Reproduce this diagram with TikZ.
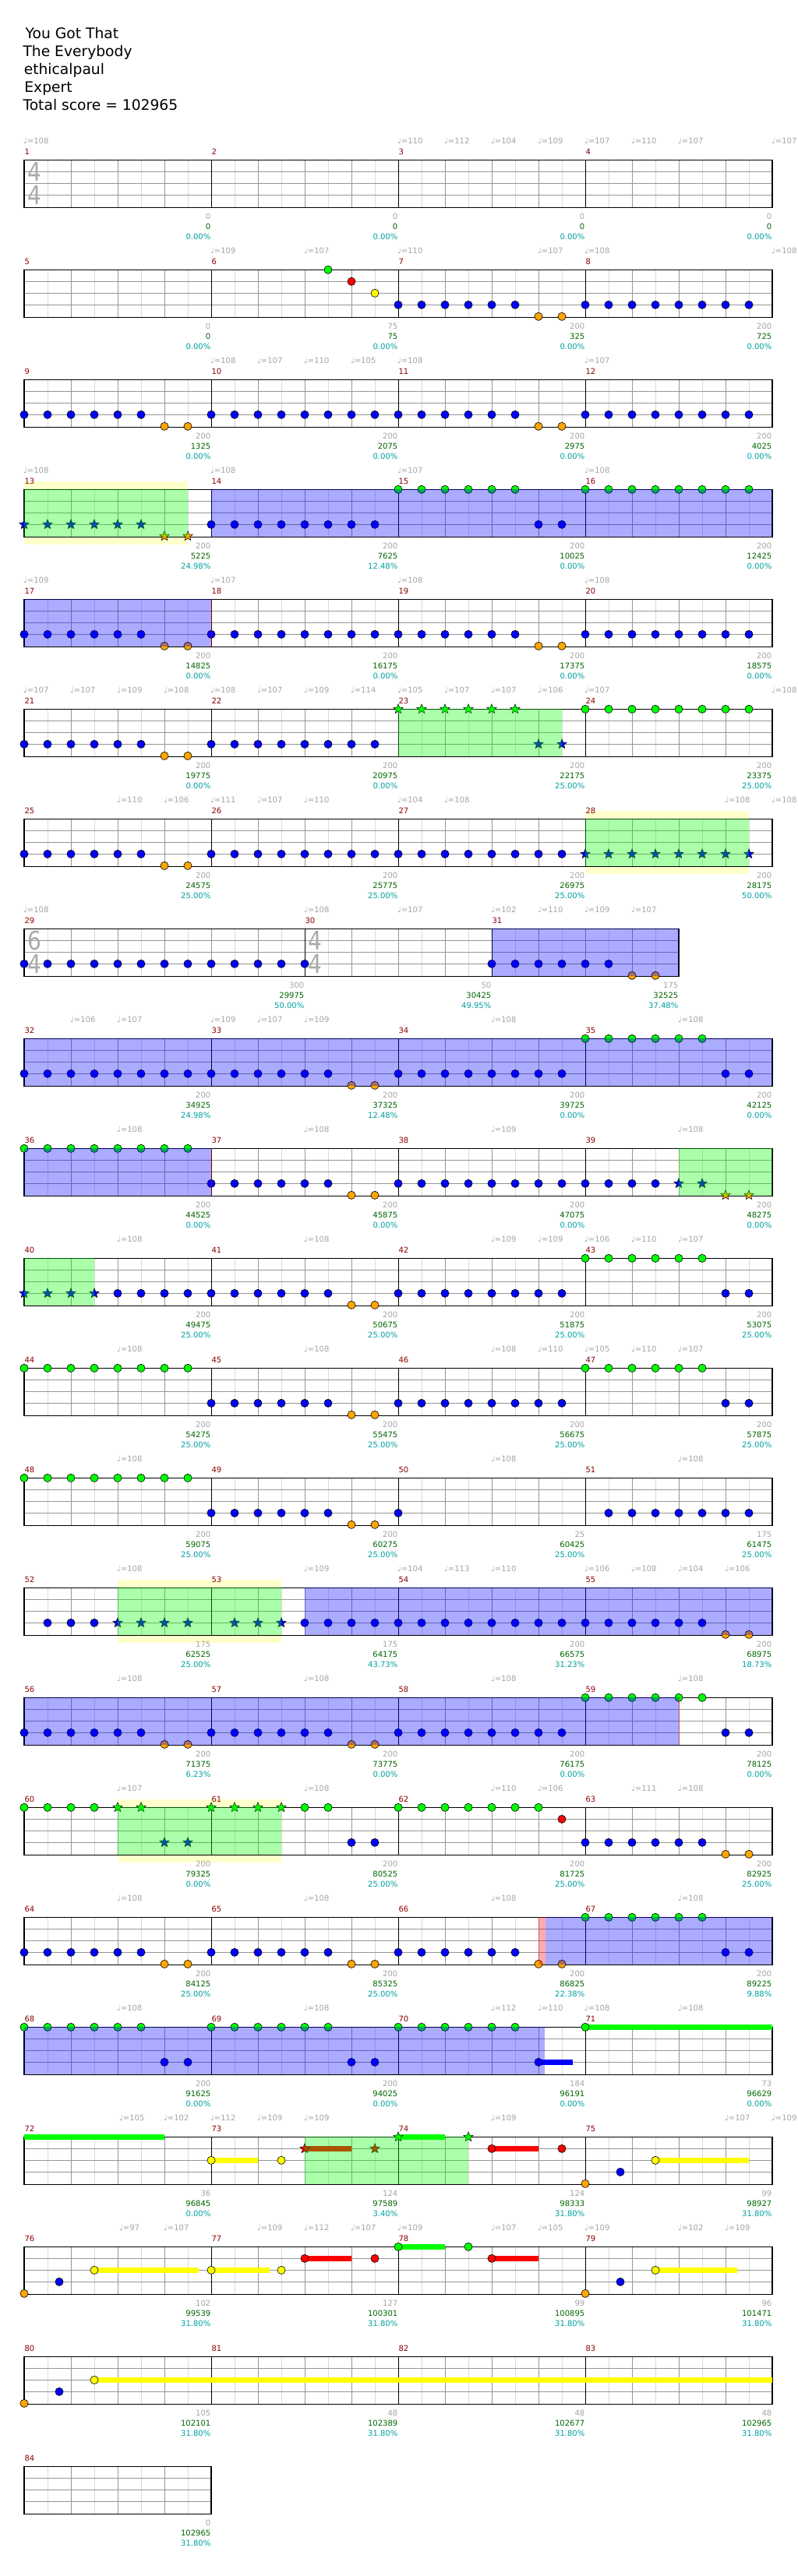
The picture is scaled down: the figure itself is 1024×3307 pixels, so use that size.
\documentclass[tikz,border=0pt]{standalone}
\usepackage{fontspec}
\usepackage{graphicx}
\setmainfont{DejaVu Sans}
\usetikzlibrary{shapes.geometric}

\definecolor{cg}{RGB}{0,255,0}
\definecolor{cr}{RGB}{255,0,0}
\definecolor{cy}{RGB}{255,255,0}
\definecolor{cb}{RGB}{0,0,255}
\definecolor{co}{RGB}{255,165,0}
\definecolor{tgray}{RGB}{165,165,165}
\definecolor{mred}{RGB}{140,0,0}
\definecolor{sgreen}{RGB}{0,100,0}
\definecolor{pteal}{RGB}{0,160,160}
\definecolor{beatgray}{RGB}{150,150,150}
\definecolor{halfgray}{RGB}{218,218,218}
\definecolor{ylbg}{RGB}{255,255,204}
\definecolor{tsgray}{RGB}{170,170,170}

\def\lyg{0}\def\lyr{15}\def\lyy{30}\def\lyb{45}\def\lyo{60}

\tikzset{
  note/.style={circle, draw=black, line width=0.6pt, minimum size=10.2pt, inner sep=0pt, fill=c#1},
  snote/.style={star, star points=5, star point ratio=2.3, draw=black, line width=0.5pt, minimum size=13pt, inner sep=0pt, fill=c#1},
  hdr/.style={anchor=base west, inner sep=0pt, font=\fontsize{18.7}{22}\selectfont},
  cnt/.style={anchor=base east, inner sep=0pt, text=tgray, font=\fontsize{10}{12}\selectfont},
  scr/.style={anchor=base east, inner sep=0pt, text=sgreen, font=\fontsize{10}{12}\selectfont},
  pct/.style={anchor=base east, inner sep=0pt, text=pteal, font=\fontsize{10}{12}\selectfont},
  mnum/.style={anchor=base west, inner sep=0pt, text=mred, font=\fontsize{10}{12}\selectfont},
  tmp/.style={anchor=base west, inner sep=0pt, text=tgray, font=\fontsize{10}{12}\selectfont},
  tsig/.style={anchor=center, inner sep=0pt, text=tsgray, font=\fontsize{33}{33}\selectfont},
  halfline/.style={halfgray, line width=0.9pt},
  beatline/.style={beatgray, line width=0.9pt},
  barline/.style={black, line width=0.9pt},
  staffborder/.style={black, line width=1.2pt},
  overlay/.style={fill=#1, fill opacity=0.33},
  endmark/.style={draw=red, line width=1.4pt, draw opacity=0.45},
}

\newcommand\Grid[2]{%
  \fill[white] (31,0) rectangle (#1,61);
  \foreach \x in {61,121,...,#1} \draw[halfline] (\x,0) -- (\x,61);
  \foreach \x in {91,151,...,#1} \draw[beatline] (\x,0) -- (\x,61);
  \foreach \y in {15,30,45} \draw[beatline] (31,\y) -- (#1,\y);
  \foreach \x in {#2} \draw[barline] (\x,0) -- (\x,61);
  \draw[staffborder] (31,0) rectangle (#1,61);
}
\newcommand\NoteRow[3]{\foreach \p in {#3}{\node[note=#1] at ({#2+30*\p},{\csname ly#1\endcsname}) {};}}
\newcommand\StarRow[3]{\foreach \p in {#3}{\node[snote=#1] at ({#2+30*\p},{\csname ly#1\endcsname}) {};}}
\newcommand\Sustain[3]{\fill[c#1] (#2,{\csname ly#1\endcsname-3.4}) rectangle (#3,{\csname ly#1\endcsname+3.4});}
\newcommand\MBO[1]{\NoteRow{b}{#1}{0,...,5}\NoteRow{o}{#1}{6,7}}
\newcommand\MBB[1]{\NoteRow{b}{#1}{0,...,7}}
\newcommand\MGB[1]{\NoteRow{g}{#1}{0,...,5}\NoteRow{b}{#1}{6,7}}
\newcommand\MGG[1]{\NoteRow{g}{#1}{0,...,7}}
\newcommand\Ov[3]{\fill[overlay=#1] (#2,0) rectangle (#3,61);}
\newcommand\Yb[2]{\fill[ylbg] (#1,-10) rectangle (#2,71);}
\newcommand\Endmark[1]{\draw[endmark] ({#1+0.7},0) -- ({#1+0.7},61);}
\newcommand\Lab[4]{\node[cnt] at ({#1-0.5},76.3) {#2};\node[scr] at ({#1-0.5},89.6) {#3};\node[pct] at ({#1-0.5},102.3) {#4};}
\newcommand\Mn[2]{\node[mnum] at ({#1+0.3},-7.3) {#2};}
\newcommand\Tp[2]{\node[tmp] at ({#1-1},-21) {♩=#2};}
\newcommand\Ts[3]{\node[tsig] at ({#1+13},14.8) {\scalebox{0.85}[1]{#2}};\node[tsig] at ({#1+13},44.8) {\scalebox{0.85}[1]{#3}};}
\newcommand\MnFour[1]{\Mn{31}{#1}\pgfmathtruncatemacro\mnb{#1+1}\Mn{271}{\mnb}\pgfmathtruncatemacro\mnc{#1+2}\Mn{511}{\mnc}\pgfmathtruncatemacro\mnd{#1+3}\Mn{751}{\mnd}}

\begin{document}
\begin{tikzpicture}[x=1pt,y=-1pt]
\useasboundingbox[fill=white] (0,0) rectangle (1024,3307);
\node[hdr] (h1) at (32.5,49) {You Got That};
\node[hdr] (h2) at (29.3,72.3) {The Everybody};
\node[hdr] (h3) at (30.6,95.7) {ethicalpaul};
\node[hdr] (h4) at (31.2,118.3) {Expert};
\node[hdr] (h5) at (29.3,141.7) {Total score = 102965};

% Row 1
\begin{scope}[shift={(0,205.33)}]
\Grid{991}{271,511,751}
\Ts{31}{4}{4}
\MnFour{1}
\Tp{31}{108}\Tp{511}{110}\Tp{571}{112}\Tp{631}{104}\Tp{691}{109}\Tp{751}{107}\Tp{811}{110}\Tp{871}{107}\Tp{991}{107}
\Lab{271}{0}{0}{0.00\%}\Lab{511}{0}{0}{0.00\%}\Lab{751}{0}{0}{0.00\%}\Lab{991}{0}{0}{0.00\%}
\end{scope}

% Row 2
\begin{scope}[shift={(0,346.33)}]
\Grid{991}{271,511,751}
\MnFour{5}
\Tp{271}{109}\Tp{391}{107}\Tp{511}{110}\Tp{691}{107}\Tp{751}{108}\Tp{991}{108}
\NoteRow{g}{421}{0}\NoteRow{r}{451}{0}\NoteRow{y}{481}{0}\MBO{511}\MBB{751}
\Lab{271}{0}{0}{0.00\%}\Lab{511}{75}{75}{0.00\%}\Lab{751}{200}{325}{0.00\%}\Lab{991}{200}{725}{0.00\%}
\end{scope}

% Row 3
\begin{scope}[shift={(0,487.33)}]
\Grid{991}{271,511,751}
\MnFour{9}
\Tp{271}{108}\Tp{331}{107}\Tp{391}{110}\Tp{451}{105}\Tp{511}{108}\Tp{751}{107}
\MBO{31}\MBB{271}\MBO{511}\MBB{751}
\Lab{271}{200}{1325}{0.00\%}\Lab{511}{200}{2075}{0.00\%}\Lab{751}{200}{2975}{0.00\%}\Lab{991}{200}{4025}{0.00\%}
\end{scope}

% Row 4
\begin{scope}[shift={(0,628.33)}]
\Yb{31}{241}
\Grid{991}{271,511,751}
\MnFour{13}
\Tp{31}{108}\Tp{271}{108}\Tp{511}{107}\Tp{751}{108}
\StarRow{b}{31}{0,...,5}\StarRow{o}{31}{6,7}\MBB{271}\MGB{511}\MGG{751}
\Ov{green}{31}{241}\Ov{blue}{271}{991}
\Lab{271}{200}{5225}{24.98\%}\Lab{511}{200}{7625}{12.48\%}\Lab{751}{200}{10025}{0.00\%}\Lab{991}{200}{12425}{0.00\%}
\end{scope}

% Row 5
\begin{scope}[shift={(0,769.33)}]
\Grid{991}{271,511,751}
\MnFour{17}
\Tp{31}{109}\Tp{271}{107}\Tp{511}{108}\Tp{751}{108}
\MBO{31}\MBB{271}\MBO{511}\MBB{751}
\Ov{blue}{31}{271}\Endmark{271}
\Lab{271}{200}{14825}{0.00\%}\Lab{511}{200}{16175}{0.00\%}\Lab{751}{200}{17375}{0.00\%}\Lab{991}{200}{18575}{0.00\%}
\end{scope}

% Row 6
\begin{scope}[shift={(0,910.33)}]
\Grid{991}{271,511,751}
\MnFour{21}
\Tp{31}{107}\Tp{91}{107}\Tp{151}{109}\Tp{211}{108}\Tp{271}{108}\Tp{331}{107}\Tp{391}{109}\Tp{451}{114}\Tp{511}{105}\Tp{571}{107}\Tp{631}{107}\Tp{691}{106}\Tp{751}{107}\Tp{991}{108}
\MBO{31}\MBB{271}\StarRow{g}{511}{0,...,5}\StarRow{b}{511}{6,7}\MGG{751}
\Ov{green}{511}{721}
\Lab{271}{200}{19775}{0.00\%}\Lab{511}{200}{20975}{0.00\%}\Lab{751}{200}{22175}{25.00\%}\Lab{991}{200}{23375}{25.00\%}
\end{scope}

% Row 7
\begin{scope}[shift={(0,1051.33)}]
\Yb{751}{961}
\Grid{991}{271,511,751}
\MnFour{25}
\Tp{151}{110}\Tp{211}{106}\Tp{271}{111}\Tp{331}{107}\Tp{391}{110}\Tp{511}{104}\Tp{571}{108}\Tp{931}{108}\Tp{991}{108}
\MBO{31}\MBB{271}\MBB{511}\StarRow{b}{751}{0,...,7}
\Ov{green}{751}{961}
\Lab{271}{200}{24575}{25.00\%}\Lab{511}{200}{25775}{25.00\%}\Lab{751}{200}{26975}{25.00\%}\Lab{991}{200}{28175}{50.00\%}
\end{scope}

% Row 8
\begin{scope}[shift={(0,1192.33)}]
\Grid{871}{391,631}
\Ts{31}{6}{4}\Ts{391}{4}{4}
\Mn{31}{29}\Mn{391}{30}\Mn{631}{31}
\Tp{31}{108}\Tp{391}{108}\Tp{511}{107}\Tp{631}{102}\Tp{691}{110}\Tp{751}{109}\Tp{811}{107}
\NoteRow{b}{31}{0,...,12}\MBO{631}
\Ov{blue}{631}{871}
\Lab{391}{300}{29975}{50.00\%}\Lab{631}{50}{30425}{49.95\%}\Lab{871}{175}{32525}{37.48\%}
\end{scope}

% Row 9
\begin{scope}[shift={(0,1333.33)}]
\Grid{991}{271,511,751}
\MnFour{32}
\Tp{91}{106}\Tp{151}{107}\Tp{271}{109}\Tp{331}{107}\Tp{391}{109}\Tp{631}{108}\Tp{871}{108}
\MBB{31}\MBO{271}\MBB{511}\MGB{751}
\Ov{blue}{31}{991}
\Lab{271}{200}{34925}{24.98\%}\Lab{511}{200}{37325}{12.48\%}\Lab{751}{200}{39725}{0.00\%}\Lab{991}{200}{42125}{0.00\%}
\end{scope}

% Row 10
\begin{scope}[shift={(0,1474.33)}]
\Grid{991}{271,511,751}
\MnFour{36}
\Tp{151}{108}\Tp{391}{108}\Tp{631}{109}\Tp{871}{108}
\MGG{31}\MBO{271}\MBB{511}\NoteRow{b}{751}{0,...,3}\StarRow{b}{751}{4,5}\StarRow{o}{751}{6,7}
\Ov{blue}{31}{271}\Endmark{271}\Ov{green}{871}{991}
\Lab{271}{200}{44525}{0.00\%}\Lab{511}{200}{45875}{0.00\%}\Lab{751}{200}{47075}{0.00\%}\Lab{991}{200}{48275}{0.00\%}
\end{scope}

% Row 11
\begin{scope}[shift={(0,1615.33)}]
\Grid{991}{271,511,751}
\MnFour{40}
\Tp{151}{108}\Tp{391}{108}\Tp{631}{109}\Tp{691}{109}\Tp{751}{106}\Tp{811}{110}\Tp{871}{107}
\StarRow{b}{31}{0,...,3}\NoteRow{b}{31}{4,...,7}\MBO{271}\MBB{511}\MGB{751}
\Ov{green}{31}{121}
\Lab{271}{200}{49475}{25.00\%}\Lab{511}{200}{50675}{25.00\%}\Lab{751}{200}{51875}{25.00\%}\Lab{991}{200}{53075}{25.00\%}
\end{scope}

% Row 12
\begin{scope}[shift={(0,1756.33)}]
\Grid{991}{271,511,751}
\MnFour{44}
\Tp{151}{108}\Tp{391}{108}\Tp{631}{108}\Tp{691}{110}\Tp{751}{105}\Tp{811}{110}\Tp{871}{107}
\MGG{31}\MBO{271}\MBB{511}\MGB{751}
\Lab{271}{200}{54275}{25.00\%}\Lab{511}{200}{55475}{25.00\%}\Lab{751}{200}{56675}{25.00\%}\Lab{991}{200}{57875}{25.00\%}
\end{scope}

% Row 13
\begin{scope}[shift={(0,1897.33)}]
\Grid{991}{271,511,751}
\MnFour{48}
\Tp{151}{108}\Tp{631}{108}\Tp{871}{108}
\MGG{31}\MBO{271}\NoteRow{b}{511}{0}\NoteRow{b}{751}{1,...,7}
\Lab{271}{200}{59075}{25.00\%}\Lab{511}{200}{60275}{25.00\%}\Lab{751}{25}{60425}{25.00\%}\Lab{991}{175}{61475}{25.00\%}
\end{scope}

% Row 14
\begin{scope}[shift={(0,2038.33)}]
\Yb{151}{361}
\Grid{991}{271,511,751}
\MnFour{52}
\Tp{151}{108}\Tp{391}{109}\Tp{511}{104}\Tp{571}{113}\Tp{631}{110}\Tp{751}{106}\Tp{811}{108}\Tp{871}{104}\Tp{931}{106}
\NoteRow{b}{31}{1,2,3}\StarRow{b}{31}{4,...,7}\StarRow{b}{271}{1,2,3}\NoteRow{b}{391}{0,...,17}\NoteRow{o}{931}{0,1}
\Ov{green}{151}{361}\Ov{blue}{391}{991}
\Lab{271}{175}{62525}{25.00\%}\Lab{511}{175}{64175}{43.73\%}\Lab{751}{200}{66575}{31.23\%}\Lab{991}{200}{68975}{18.73\%}
\end{scope}

% Row 15
\begin{scope}[shift={(0,2179.33)}]
\Grid{991}{271,511,751}
\MnFour{56}
\Tp{151}{108}\Tp{391}{108}\Tp{631}{108}\Tp{871}{108}
\MBO{31}\MBO{271}\MBB{511}\MGB{751}
\Ov{blue}{31}{871}\Endmark{871}
\Lab{271}{200}{71375}{6.23\%}\Lab{511}{200}{73775}{0.00\%}\Lab{751}{200}{76175}{0.00\%}\Lab{991}{200}{78125}{0.00\%}
\end{scope}

% Row 16
\begin{scope}[shift={(0,2320.33)}]
\Yb{151}{361}
\Grid{991}{271,511,751}
\MnFour{60}
\Tp{151}{107}\Tp{391}{108}\Tp{631}{110}\Tp{691}{106}\Tp{811}{111}\Tp{871}{108}
\NoteRow{g}{31}{0,...,3}\StarRow{g}{31}{4,5}\StarRow{b}{31}{6,7}\StarRow{g}{271}{0,...,3}\NoteRow{g}{271}{4,5}\NoteRow{b}{271}{6,7}\NoteRow{g}{511}{0,...,6}\NoteRow{r}{511}{7}\MBO{751}
\Ov{green}{151}{361}
\Lab{271}{200}{79325}{0.00\%}\Lab{511}{200}{80525}{25.00\%}\Lab{751}{200}{81725}{25.00\%}\Lab{991}{200}{82925}{25.00\%}
\end{scope}

% Row 17
\begin{scope}[shift={(0,2461.33)}]
\Grid{991}{271,511,751}
\MnFour{64}
\Tp{151}{108}\Tp{391}{108}\Tp{631}{108}\Tp{871}{108}
\MBO{31}\MBO{271}\MBO{511}\MGB{751}
\Ov{red}{691}{700}\Ov{blue}{700}{991}
\Lab{271}{200}{84125}{25.00\%}\Lab{511}{200}{85325}{25.00\%}\Lab{751}{200}{86825}{22.38\%}\Lab{991}{200}{89225}{9.88\%}
\end{scope}

% Row 18
\begin{scope}[shift={(0,2602.33)}]
\Grid{991}{271,511,751}
\MnFour{68}
\Tp{151}{108}\Tp{391}{108}\Tp{631}{112}\Tp{691}{110}\Tp{751}{108}\Tp{871}{108}
\MGB{31}\MGB{271}\NoteRow{g}{511}{0,...,5}
\Sustain{b}{691}{735}\NoteRow{b}{691}{0}
\Sustain{g}{751}{991}\NoteRow{g}{751}{0}
\Ov{blue}{31}{699}
\Lab{271}{200}{91625}{0.00\%}\Lab{511}{200}{94025}{0.00\%}\Lab{751}{184}{96191}{0.00\%}\Lab{991}{73}{96629}{0.00\%}
\end{scope}

% Row 19
\begin{scope}[shift={(0,2743.33)}]
\Grid{991}{271,511,751}
\MnFour{72}
\Tp{154}{105}\Tp{211}{102}\Tp{271}{112}\Tp{331}{109}\Tp{391}{109}\Tp{631}{109}\Tp{931}{107}\Tp{991}{109}
\Sustain{g}{31}{211}
\Sustain{y}{271}{331}\NoteRow{y}{271}{0,3}
\Sustain{r}{391}{451}\StarRow{r}{391}{0,3}
\Sustain{g}{511}{571}\StarRow{g}{511}{0,3}
\Sustain{r}{631}{691}\NoteRow{r}{631}{0,3}
\NoteRow{o}{751}{0}\NoteRow{b}{796}{0}
\Sustain{y}{841}{961}\NoteRow{y}{841}{0}
\Ov{green}{391}{601}
\Lab{271}{36}{96845}{0.00\%}\Lab{511}{124}{97589}{3.40\%}\Lab{751}{124}{98333}{31.80\%}\Lab{991}{99}{98927}{31.80\%}
\end{scope}

% Row 20
\begin{scope}[shift={(0,2884.33)}]
\Grid{991}{271,511,751}
\MnFour{76}
\Tp{154}{97}\Tp{211}{107}\Tp{331}{109}\Tp{391}{112}\Tp{451}{107}\Tp{511}{109}\Tp{631}{107}\Tp{691}{105}\Tp{751}{109}\Tp{871}{102}\Tp{931}{109}
\NoteRow{o}{31}{0}\NoteRow{b}{76}{0}
\Sustain{y}{121}{255}\NoteRow{y}{121}{0}
\Sustain{y}{271}{346}\NoteRow{y}{271}{0,3}
\Sustain{r}{391}{451}\NoteRow{r}{391}{0,3}
\Sustain{g}{511}{571}\NoteRow{g}{511}{0,3}
\Sustain{r}{631}{691}\NoteRow{r}{631}{0}
\NoteRow{o}{751}{0}\NoteRow{b}{796}{0}
\Sustain{y}{841}{946}\NoteRow{y}{841}{0}
\Lab{271}{102}{99539}{31.80\%}\Lab{511}{127}{100301}{31.80\%}\Lab{751}{99}{100895}{31.80\%}\Lab{991}{96}{101471}{31.80\%}
\end{scope}

% Row 21
\begin{scope}[shift={(0,3025.33)}]
\Grid{991}{271,511,751}
\MnFour{80}
\NoteRow{o}{31}{0}\NoteRow{b}{76}{0}
\Sustain{y}{121}{991}\NoteRow{y}{121}{0}
\Lab{271}{105}{102101}{31.80\%}\Lab{511}{48}{102389}{31.80\%}\Lab{751}{48}{102677}{31.80\%}\Lab{991}{48}{102965}{31.80\%}
\end{scope}

% Row 22
\begin{scope}[shift={(0,3166.33)}]
\Grid{271}{31}
\Mn{31}{84}
\Lab{271}{0}{102965}{31.80\%}
\end{scope}
\end{tikzpicture}
\end{document}
